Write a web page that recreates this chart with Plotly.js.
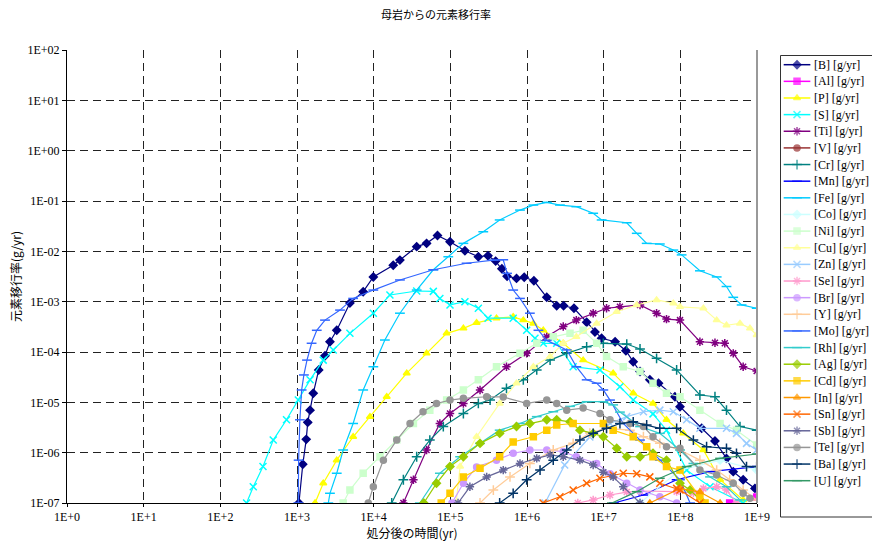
<!DOCTYPE html>
<html><head><meta charset="utf-8">
<script src="https://cdn.plot.ly/plotly-3.0.1.min.js"></script>
<style>html,body{margin:0;padding:0;background:#fff}#chart{width:872px;height:546px}</style>
</head><body><div id="chart"></div>
<script>
// ---- data (time in yr, rate in g/yr) ----
const B_x = [1.06e3,1.19e3,1.32e3,1.38e3,1.48e3,1.63e3,1.92e3,2.32e3,2.69e3,3.3e3,4.9e3,7.3e3,9.9e3,1.8e4,2.2e4,3.64e4,4.9e4,6.8e4,9.9e4,1.55e5,2.32e5,3.1e5,3.9e5,4.7e5,5.5e5,7.3e5,9.2e5,1.23e6,1.81e6,2.44e6,3.0e6,4.1e6,6.0e6,7.7e6,9.4e6,1.41e7,1.95e7,2.43e7,2.98e7,4.0e7,5.2e7,8.5e7,9.9e7,1.9e8,2.83e8,4.0e8,4.9e8,6.6e8,9.4e8];
const B_y = [1e-7,5.9e-7,1.84e-6,4.0e-6,7.0e-6,1.51e-5,4.4e-5,8.4e-5,1.6e-4,2.7e-4,9.4e-4,1.58e-3,3.1e-3,5.3e-3,6.7e-3,1.24e-2,1.44e-2,2.06e-2,1.55e-2,1.03e-2,7.8e-3,8.2e-3,6.4e-3,4.5e-3,3.2e-3,2.9e-3,3.05e-3,2.6e-3,1.22e-3,8.3e-4,8.3e-4,7.4e-4,3.9e-4,2.5e-4,1.87e-4,1.6e-4,1.06e-4,6.4e-5,4.1e-5,2.8e-5,2.4e-5,1.29e-5,8.2e-6,3.05e-6,1.7e-6,7.7e-7,4.2e-7,2.9e-7,1.95e-7];
const Al_x = [4.4e8,9.9e8];
const Al_y = [1e-7,1.31e-7];
const P_x = [1.72e3,2.2e3,3.3e3,5.4e3,8.95e3,1.48e4,2.7e4,4.9e4,8.95e4,1.48e5,2.2e5,4.0e5,6.6e5,8.95e5,1.21e6,1.63e6,2.2e6,2.97e6,5.4e6,1.33e7,2.43e7,4.4e7,6.6e7,1.09e8,2.0e8,3.3e8,6.6e8];
const P_y = [1e-7,2.46e-7,7.1e-7,2.07e-6,5.2e-6,1.29e-5,3.8e-5,9.4e-5,2.35e-4,2.95e-4,3.8e-4,4.7e-4,5.0e-4,4.3e-4,3.7e-4,2.7e-4,2.0e-4,1.49e-4,6.9e-5,3.8e-5,1.51e-5,9.5e-6,4.5e-6,2.42e-6,1.13e-6,2.9e-7,1.15e-7];
const S_x = [2.2e2,2.69e2,3.6e2,4.9e2,7.3e2,1.04e3,1.48e3,2.2e3,2.97e3,4.9e3,9.9e3,1.63e4,3.64e4,6.0e4,7.3e4,9.9e4,1.55e5,2.32e5,3.1e5,6.6e5,9.9e5,1.27e6,1.63e6,2.44e6,4.0e6,8.95e6,1.63e7,2.43e7,4.4e7,6.6e7,1.21e8,2.44e8,6.6e8];
const S_y = [1e-7,2.1e-7,5.3e-7,1.78e-6,4.5e-6,1.11e-5,2.8e-5,6.9e-5,1.1e-4,2.35e-4,5.9e-4,1.36e-3,1.63e-3,1.6e-3,1.16e-3,8.6e-4,1.0e-3,7.4e-4,4.7e-4,4.7e-4,2.7e-4,1.87e-4,1.49e-4,1.49e-4,5.1e-5,4.4e-5,2.04e-5,1.11e-5,5.9e-6,2.8e-6,4.5e-7,2.1e-7,1e-7];
const Ti_x = [2.44e4,3.3e4,4.9e4,7.3e4,9.9e4,1.48e5,2.44e5,5.4e5,9.9e5,1.81e6,2.97e6,4.4e6,7.3e6,1.09e7,1.63e7,2.98e7,4.9e7,6.6e7,9.9e7,1.8e8,2.83e8,3.8e8,4.9e8,6.6e8,9.9e8];
const Ti_y = [1e-7,2.9e-7,1.13e-6,3.8e-6,6.0e-6,9.5e-6,1.76e-5,5.1e-5,9.4e-5,2.0e-4,3.2e-4,4.3e-4,5.9e-4,7.4e-4,7.9e-4,8.6e-4,5.9e-4,4.5e-4,4.3e-4,1.6e-4,1.53e-4,1.49e-4,9.4e-5,5.1e-5,4.2e-5];
const V_x = [1e8,1e9];
const V_y = [1e-8,1e-8];
const Cr_x = [1.72e4,2.44e4,3.64e4,5.4e4,8.1e4,1.48e5,2.32e5,3.3e5,5.4e5,8.95e5,1.34e6,2.0e6,3.3e6,6.0e6,9.9e6,2.0e7,2.98e7,4.9e7,8.95e7,1.8e8,2.83e8,4.0e8,6.0e8,9.9e8];
const Cr_y = [1e-7,2.9e-7,8.3e-7,1.78e-6,3.3e-6,6.0e-6,9.5e-6,1.11e-5,1.9e-5,2.8e-5,4.4e-5,6.9e-5,9.4e-5,1.27e-4,1.49e-4,1.44e-4,1.15e-4,7.5e-5,4.4e-5,1.4e-5,1.29e-5,7.0e-6,3.3e-6,2.8e-6];
const Mn_x = [1.36e7,3.3e7,8.95e7,2.44e8,9.9e8];
const Mn_y = [1e-7,1.44e-7,2.9e-7,4.2e-7,5.3e-7];
const Fe_x = [2.56e3,2.69e3,3.3e3,4.0e3,5.4e3,7.3e3,9.9e3,1.4e4,2.2e4,3.64e4,6.0e4,9.4e4,1.48e5,2.69e5,4.4e5,8.1e5,1.21e6,1.81e6,2.69e6,4.4e6,7.3e6,9.4e6,2.0e7,2.7e7,3.64e7,5.4e7,8.1e7,1.04e8,1.8e8,2.98e8,4.0e8,4.9e8,6.3e8,9.9e8];
const Fe_y = [1e-7,1.56e-7,3.9e-7,1.13e-6,3.8e-6,1.76e-5,5.1e-5,1.73e-4,5.9e-4,1.7e-3,4.3e-3,7.8e-3,1.44e-2,2.45e-2,4.2e-2,6.6e-2,8.3e-2,9.4e-2,8.3e-2,7.7e-2,5.7e-2,4.2e-2,3.7e-2,2.28e-2,1.44e-2,1.4e-2,1.06e-2,8.5e-3,4.1e-3,3.1e-3,2.0e-3,1.22e-3,8.6e-4,7.4e-4];
const Co_x = [2.98e7,9.9e7,3.3e8,9.9e8];
const Co_y = [1e-7,4.5e-7,7.1e-7,4.5e-7];
const Ni_x = [4.0e3,4.9e3,7.3e3,1.21e4,2.0e4,3.3e4,5.4e4,8.95e4,1.48e5,2.32e5,4.0e5,8.1e5,1.34e6,2.2e6,3.64e6,5.4e6,8.1e6,1.09e7,1.8e7,2.98e7,4.4e7,6.6e7,9.9e7,1.8e8,3.3e8,5.4e8,9.9e8];
const Ni_y = [1e-7,1.81e-7,3.9e-7,8.3e-7,1.78e-6,3.8e-6,7.0e-6,1.11e-5,1.76e-5,2.8e-5,5.1e-5,9.4e-5,1.49e-4,2.0e-4,2.35e-4,2.7e-4,1.49e-4,8.1e-5,5.1e-5,4.1e-5,2.4e-5,1.51e-5,1.29e-5,7.0e-6,3.8e-6,2.8e-6,1.42e-6];
const Cu_x = [1.19e5,1.34e5,2.2e5,4.4e5,7.3e5,1.21e6,2.0e6,2.97e6,4.4e6,8.1e6,1.48e7,2.7e7,4.9e7,8.1e7,9.9e7,2.0e8,2.98e8,4.0e8,6.0e8,8.1e8,9.9e8];
const Cu_y = [1e-7,5.3e-7,2.07e-6,9.5e-6,2.4e-5,5.1e-5,8.1e-5,1.49e-4,2.0e-4,3.7e-4,6.3e-4,8.6e-4,1.08e-3,9.3e-4,7.9e-4,7.4e-4,4.3e-4,3.4e-4,3.7e-4,2.95e-4,2.17e-4];
const Zn_x = [1.72e6,3.1e6,6.6e6,1.21e7,2.0e7,3.3e7,5.4e7,8.1e7,1.21e8,1.8e8,4.0e8,5.4e8,7.3e8,9.9e8];
const Zn_y = [1e-7,5.7e-7,2.05e-6,3.8e-6,5.2e-6,6.5e-6,7.0e-6,6.5e-6,4.5e-6,3.05e-6,3.05e-6,2.42e-6,1.53e-6,1.13e-6];
const Se_x = [4.6e6,7.3e6,1.21e7,2.0e7,2.98e7,8.95e7,1.48e8,2.0e8,2.98e8,4.0e8,5.4e8];
const Se_y = [1e-7,1.15e-7,1.44e-7,1.65e-7,1.73e-7,1.68e-7,1.58e-7,1.95e-7,2.1e-7,1.81e-7,1e-7];
const Br_x = [1.05e5,1.48e5,2.2e5,4.0e5,6.6e5,1.09e6,1.81e6,2.97e6,4.4e6,8.1e6,1.21e7,2.0e7,2.98e7,5.4e7,8.95e7];
const Br_y = [1e-7,2.46e-7,5.2e-7,7.1e-7,9.7e-7,1.13e-6,1.13e-6,1.05e-6,8.3e-7,6.1e-7,3.8e-7,2.46e-7,1.81e-7,1.33e-7,1e-7];
const Y_x = [2.44e5,3.64e5,6.0e5,1.09e6,2.2e6,4.0e6,6.6e6,1.09e7,2.2e7,3.3e7,5.4e7,9.9e7,1.8e8,2.98e8,4.4e8,6.6e8,9.9e8];
const Y_y = [1e-7,1.81e-7,3.3e-7,6.1e-7,1.13e-6,1.53e-6,2.45e-6,3.05e-6,2.8e-6,2.07e-6,1.53e-6,1.13e-6,7.1e-7,4.5e-7,2.9e-7,1.81e-7,1.15e-7];
const Mo_x = [1.04e3,1.05e3,1.09e3,1.15e3,1.23e3,1.35e3,1.55e3,1.81e3,2.32e3,3.64e3,5.4e3,9.9e3,2.2e4,6.0e4,1.63e5,3.64e5,4.9e5,5.5e5,6.6e5,8.1e5,1.09e6,1.41e6,1.81e6,3.3e6,4.4e6,6.0e6,8.1e6,9.9e6,1.21e7,1.8e7,2.98e7,5.4e7,9.9e7,1.34e8];
const Mo_y = [1e-7,7.1e-7,4.5e-6,1.76e-5,3.5e-5,6.9e-5,1.49e-4,2.7e-4,4.3e-4,6.8e-4,1.16e-3,1.7e-3,2.7e-3,4.3e-3,5.8e-3,6.7e-3,6.8e-3,3.65e-3,1.7e-3,1.16e-3,5.9e-4,2.7e-4,1.7e-4,1.1e-4,5.1e-5,2.8e-5,2.4e-5,1.76e-5,1.11e-5,3.8e-6,1.78e-6,7.1e-7,2.9e-7,1e-7];
const Rh_x = [4.0e4,7.3e4,1.34e5,2.44e5,4.4e5,8.1e5,1.34e6,2.2e6,3.64e6,6.0e6,9.9e6,1.33e7,1.63e7,2.98e7,5.4e7,9.9e7,1.48e8,2.44e8,4.0e8,6.0e8];
const Rh_y = [1e-7,3.9e-7,8.3e-7,1.53e-6,2.8e-6,3.8e-6,5.2e-6,6.5e-6,8.3e-6,1.03e-5,1.03e-5,8.9e-6,6.4e-6,3.3e-6,2.42e-6,1.13e-6,6.1e-7,3.3e-7,2.1e-7,1.15e-7];
const Ag_x = [4.5e4,6.6e4,9.9e4,1.48e5,2.44e5,4.4e5,7.3e5,1.09e6,1.81e6,2.44e6,3.64e6,4.9e6,7.3e6,9.9e6,1.48e7,2.0e7,2.98e7,4.4e7,6.6e7,9.9e7,1.34e8,2.0e8];
const Ag_y = [1e-7,2.46e-7,5.3e-7,8.3e-7,1.53e-6,2.42e-6,3.3e-6,3.8e-6,4.5e-6,4.5e-6,4.1e-6,2.8e-6,2.42e-6,2.07e-6,1.22e-6,8.3e-7,8.3e-7,9.7e-7,7.1e-7,2.46e-7,1.81e-7,1e-7];
const Cd_x = [7.6e4,9.9e4,1.48e5,2.44e5,4.4e5,6.6e5,1.21e6,1.81e6,2.44e6,4.0e6,9.9e6,1.33e7,2.43e7,3.64e7,4.4e7,6.6e7,9.9e7,1.8e8,2.1e8];
const Cd_y = [1e-7,1.56e-7,3.3e-7,4.9e-7,8.3e-7,1.63e-6,2.07e-6,2.8e-6,3.55e-6,3.8e-6,3.8e-6,2.8e-6,2.07e-6,1.31e-6,8.3e-7,5.3e-7,4.5e-7,1.33e-7,1e-7];
const In_x = [4.0e7,9.9e7,1.8e8,3.3e8];
const In_y = [1e-7,1.95e-7,1.65e-7,1e-7];
const Sn_x = [1.62e6,2.69e6,4.0e6,6.0e6,8.95e6,1.33e7,1.8e7,2.7e7,4.0e7,5.4e7,8.95e7,9.9e7,1.8e8];
const Sn_y = [1e-7,1.33e-7,1.81e-7,2.46e-7,3.1e-7,3.6e-7,3.9e-7,3.8e-7,3.3e-7,2.46e-7,1.95e-7,1.81e-7,1e-7];
const Sb_x = [1.26e5,1.8e5,2.98e5,4.9e5,8.1e5,1.34e6,2.0e6,2.97e6,4.9e6,7.3e6,9.9e6,1.33e7,1.8e7,2.98e7];
const Sb_y = [1e-7,2.1e-7,3.3e-7,4.5e-7,6.1e-7,7.7e-7,9.0e-7,8.3e-7,7.1e-7,5.7e-7,4.1e-7,3.3e-7,2.1e-7,1e-7];
const Te_x = [8.5e3,9.9e3,1.34e4,2.0e4,2.98e4,4.4e4,6.6e4,9.9e4,1.48e5,2.98e5,4.9e5,9.9e5,1.81e6,2.44e6,3.3e6,5.4e6,8.95e6,1.21e7,2.2e7,3.3e7,4.4e7,6.6e7,9.9e7,1.8e8,2.98e8,4.9e8,6.6e8,8.1e8];
const Te_y = [1e-7,2.1e-7,7.1e-7,1.78e-6,3.8e-6,6.5e-6,9.5e-6,1.11e-5,1.2e-5,1.29e-5,1.28e-5,9.5e-6,1.11e-5,9.5e-6,7.0e-6,7.7e-6,6.0e-6,4.5e-6,3.8e-6,3.3e-6,2.07e-6,1.31e-6,1.22e-6,4.5e-7,3.6e-7,2.46e-7,1.56e-7,1.24e-7];
const Ba_x = [4.4e5,6.6e5,9.9e5,1.48e6,2.2e6,3.3e6,4.9e6,7.3e6,1.09e7,1.63e7,2.43e7,3.64e7,5.4e7,8.95e7,1.48e8,2.2e8,4.0e8,5.4e8,7.3e8,9.9e8];
const Ba_y = [1e-7,1.56e-7,2.9e-7,4.5e-7,7.1e-7,1.13e-6,1.78e-6,2.42e-6,3.05e-6,3.8e-6,4.1e-6,3.55e-6,3.05e-6,3.05e-6,1.78e-6,1.31e-6,1.22e-6,9.7e-7,5.3e-7,5.3e-7];
const U_x = [1.28e7,2.7e7,5.4e7,1.21e8,3.3e8,9.9e8];
const U_y = [1e-7,1.68e-7,3.1e-7,5.3e-7,7.7e-7,9.4e-7];

const elements = ['B','Al','P','S','Ti','V','Cr','Mn','Fe','Co','Ni','Cu','Zn','Se','Br','Y','Mo','Rh','Ag','Cd','In','Sn','Sb','Te','Ba','U'];
const seriesX = [B_x,Al_x,P_x,S_x,Ti_x,V_x,Cr_x,Mn_x,Fe_x,Co_x,Ni_x,Cu_x,Zn_x,Se_x,Br_x,Y_x,Mo_x,Rh_x,Ag_x,Cd_x,In_x,Sn_x,Sb_x,Te_x,Ba_x,U_x];
const seriesY = [B_y,Al_y,P_y,S_y,Ti_y,V_y,Cr_y,Mn_y,Fe_y,Co_y,Ni_y,Cu_y,Zn_y,Se_y,Br_y,Y_y,Mo_y,Rh_y,Ag_y,Cd_y,In_y,Sn_y,Sb_y,Te_y,Ba_y,U_y];
const xTickVals = [1,1e1,1e2,1e3,1e4,1e5,1e6,1e7,1e8,1e9];
const xTickText = ['1E+0','1E+1','1E+2','1E+3','1E+4','1E+5','1E+6','1E+7','1E+8','1E+9'];
const yTickVals = [1e-7,1e-6,1e-5,1e-4,1e-3,1e-2,1e-1,1,1e1,1e2];
const yTickText = ['1E-07','1E-06','1E-05','1E-04','1E-03','1E-02','1E-01','1E+00','1E+01','1E+02'];

// ---- styles ----
const colors = ['#000080','#FF00FF','#FFFF00','#00FFFF','#800080','#993333','#008080','#0000FF','#00CCFF','#CCFFFF','#CCFFCC','#FFFF99','#99CCFF','#FF99CC','#CC99FF','#FFCC99','#3366FF','#33CCCC','#99CC00','#FFCC00','#FF9900','#FF6600','#666699','#969696','#003366','#339966'];
const symbols = ['diamond','square','triangle-up','x-thin-open','asterisk-open','circle','cross-thin-open','line-ew-open','line-ew-open','diamond','square','triangle-up','x-thin-open','asterisk-open','circle','cross-thin-open','line-ew-open','line-ew-open','diamond','square','triangle-up','x-thin-open','asterisk-open','circle','cross-thin-open','line-ew-open'];
function msize(sym){ return sym.indexOf('open')>=0 ? 7 : 6; }

const traces = [];
elements.forEach((el,i)=>{
  traces.push({
    type:'scatter', mode:'lines+markers', x:seriesX[i], y:seriesY[i], name:'['+el+'] [g/yr]',
    xaxis:'x', yaxis:'y', showlegend:false, hoverinfo:'skip',
    line:{color:colors[i], width:1.2},
    marker:{symbol:symbols[i], size:msize(symbols[i]), color:colors[i], line:{color:colors[i], width:1.5}}
  });
});
// legend samples (manual legend drawn on a helper axis)
const annotations = [];
elements.forEach((el,i)=>{
  traces.push({
    type:'scatter', mode:'lines+markers', x:[0.04,0.185,0.33], y:[i,i,i],
    xaxis:'x2', yaxis:'y2', showlegend:false, hoverinfo:'skip',
    line:{color:colors[i], width:1.5},
    marker:{symbol:symbols[i], size:[0,msize(symbols[i]),0], color:colors[i], line:{color:colors[i], width:1.5}}
  });
  annotations.push({xref:'x2', yref:'y2', x:0.35, y:i, text:'['+el+'] [g/yr]', showarrow:false,
    xanchor:'left', yanchor:'middle', font:{family:'Liberation Serif, serif', size:12, color:'#000'}});
});

const W=872,H=546;
const layout = {
  width:W, height:H, margin:{l:0,r:0,t:0,b:0}, paper_bgcolor:'#fff', plot_bgcolor:'#fff',
  showlegend:false,
  title:{text:'母岩からの元素移行率', x:0.5, xref:'paper', y:1-15/H, yanchor:'middle',
    font:{family:'Noto Sans CJK JP, sans-serif', size:11, color:'#000'}},
  font:{family:'Liberation Serif, serif', size:12, color:'#000'},
  xaxis:{type:'log', domain:[67/W,757/W], range:[0,9], tickvals:xTickVals, ticktext:xTickText,
    showgrid:true, gridcolor:'#222', griddash:'8px,5px', gridwidth:1,
    showline:true, linecolor:'#000', linewidth:1, ticks:'outside', ticklen:3, tickcolor:'#000',
    zeroline:false, tickfont:{family:'Liberation Serif, serif', size:12, color:'#000'},
    title:{text:'処分後の時間(yr)', standoff:4, font:{family:'Noto Sans CJK JP, sans-serif', size:12, color:'#000'}}},
  yaxis:{type:'log', domain:[43/H,496/H], range:[-7,2], tickvals:yTickVals, ticktext:yTickText,
    showgrid:true, gridcolor:'#222', griddash:'8px,5px', gridwidth:1,
    showline:true, linecolor:'#000', linewidth:1, ticks:'outside', ticklen:4, tickcolor:'#000',
    zeroline:false, tickfont:{family:'Liberation Serif, serif', size:12, color:'#000'},
    title:{text:'元素移行率(g/yr)', standoff:3, font:{family:'Noto Sans CJK JP, sans-serif', size:12, color:'#000'}}},
  xaxis2:{domain:[780/W,1], range:[0,1], visible:false, fixedrange:true},
  yaxis2:{domain:[0,1], range:[(H-64.7)/16.64, -64.7/16.64], visible:false, fixedrange:true},
  annotations: annotations,
  shapes:[
    {type:'line', xref:'x domain', yref:'y domain', x0:1, x1:1, y0:0, y1:1, line:{color:'#999', width:2}},
    {type:'rect', xref:'paper', yref:'paper', x0:780.5/W, x1:1.02, y0:(H-517)/H, y1:(H-55.5)/H, line:{color:'#333', width:1}}
  ]
};
Plotly.newPlot('chart', traces, layout, {staticPlot:true, displayModeBar:false});
</script></body></html>
